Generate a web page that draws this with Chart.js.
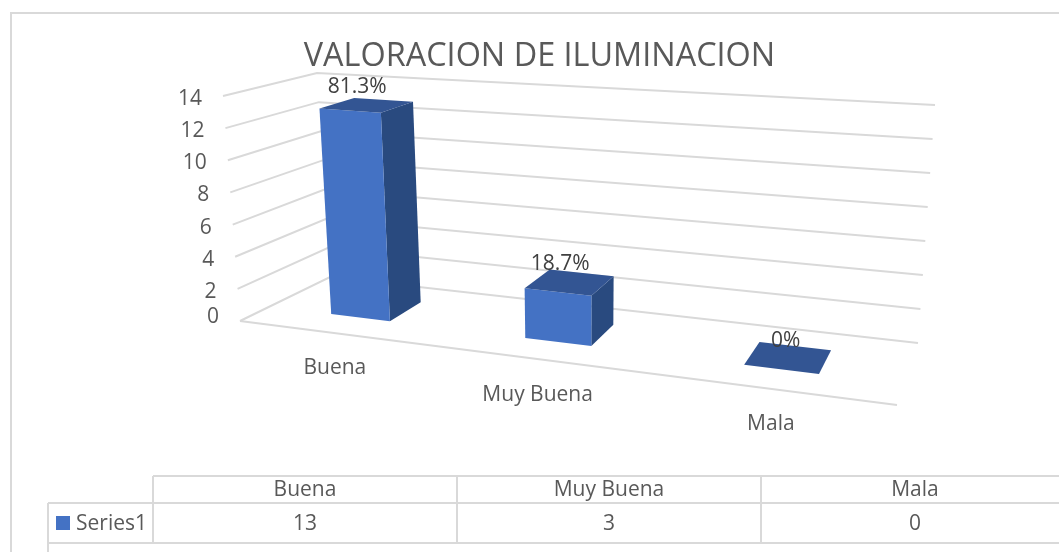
<!DOCTYPE html>
<html><head><meta charset="utf-8">
<script src="https://cdn.jsdelivr.net/npm/chart.js@4"></script>
<style>html,body{margin:0;padding:0;background:#fff;overflow:hidden}#w{width:1059px;height:552px;position:relative}</style>
</head><body><div id="w"><canvas id="c" width="1059" height="552"></canvas></div>
<script>
const titleText = 'VALORACION DE ILUMINACION';
const categories = ['Buena', 'Muy Buena', 'Mala'];
const seriesName = 'Series1';
const seriesValues = [13, 3, 0];
const percentLabels = ['81.3%', '18.7%', '0%'];

const FONT = '"Open Sans", sans-serif';
const GRID = '#d9d9d9', TXT = '#595959', LBL = '#404040';
const FRONT = '#4472c4', TOP = '#335593', SIDE = '#294a7f';
// projected corners of the 3D box (floor point, top point)
const box = {
  FL: [[240, 321], [223, 96]], FR: [[897, 405], [912, 146]],
  BL: [[330, 277], [317, 73]], BR: [[918, 343], [935, 105]]
};
const persp = 1.2, zFront = 0.33, zBack = 0.73;
const catLabelShift = [1, -1, 1];
const lerp = (a, b, k) => [a[0] + (b[0] - a[0]) * k, a[1] + (b[1] - a[1]) * k];
function project(t, v, w) {
  const u = t / (t + persp * (1 - t));
  const c = n => lerp(box[n][0], box[n][1], v);
  return lerp(lerp(c('FL'), c('FR'), u), lerp(c('BL'), c('BR'), u), w);
}
function poly(ctx, pts, fill) {
  ctx.beginPath();
  pts.forEach((p, i) => i ? ctx.lineTo(p[0], p[1]) : ctx.moveTo(p[0], p[1]));
  ctx.closePath();
  ctx.fillStyle = fill; ctx.fill();
}
function seg(ctx, pts) {
  ctx.beginPath();
  pts.forEach((p, i) => i ? ctx.lineTo(p[0], p[1]) : ctx.moveTo(p[0], p[1]));
  ctx.stroke();
}
function text(ctx, s, x, y, font, color, align) {
  ctx.font = font; ctx.fillStyle = color; ctx.textAlign = align || 'center'; ctx.textBaseline = 'middle';
  ctx.fillText(s, x, y + 1.5);
}
const scene3d = {
  id: 'scene3d',
  beforeDraw(chart) {
    const ctx = chart.ctx;
    ctx.save();
    ctx.fillStyle = '#fff'; ctx.fillRect(0, 0, chart.width, chart.height);
    ctx.strokeStyle = GRID; ctx.lineWidth = 2;
    seg(ctx, [[11, 552], [11, 13], [1059, 13]]);
    // data table
    const colX = [153, 457, 761, 1069];
    seg(ctx, [[153, 476], [1059, 476]]);
    seg(ctx, [[48, 503], [1059, 503]]);
    seg(ctx, [[48, 543], [1059, 543]]);
    seg(ctx, [[48, 503], [48, 552]]);
    colX.slice(0, 3).forEach(x => seg(ctx, [[x, 476], [x, 543]]));
    const f = '21px ' + FONT;
    categories.forEach((n, i) => {
      const cx = (colX[i] + colX[i + 1]) / 2;
      text(ctx, n, cx, 489, f, TXT);
      text(ctx, String(seriesValues[i]), cx, 523, f, TXT);
    });
    ctx.fillStyle = FRONT; ctx.fillRect(56, 516, 14, 14);
    text(ctx, seriesName, 76, 523, f, TXT, 'left');
    ctx.restore();
  },
  beforeDatasetsDraw(chart) {
    const ctx = chart.ctx, y = chart.scales.y, x = chart.scales.x, a = chart.chartArea;
    const vOf = val => (y.bottom - y.getPixelForValue(val)) / (y.bottom - y.top);
    ctx.save();
    ctx.strokeStyle = GRID; ctx.lineWidth = 2;
    y.ticks.forEach(tk => {
      const v = vOf(tk.value);
      const p = project(0, v, 0);
      seg(ctx, [p, project(0, v, 1), project(1, v, 1)]);
      text(ctx, tk.label, p[0] - 21, p[1] + (tk.value === 0 ? -5 : 1.5), '21px ' + FONT, TXT, 'right');
    });
    seg(ctx, [project(0, 0, 0), project(1, 0, 0)]);
    categories.forEach((n, i) => {
      const p = project((x.getPixelForValue(i) - a.left) / a.width, 0, 0);
      text(ctx, n, p[0] + catLabelShift[i], p[1] + 34, '21px ' + FONT, TXT);
    });
    // 3D bars, taken from the library's bar elements
    chart.getDatasetMeta(0).data.forEach((el, i) => {
      const t0 = (el.x - el.width / 2 - a.left) / a.width, t1 = (el.x + el.width / 2 - a.left) / a.width;
      const v = vOf(seriesValues[i]);
      const A = project(t0, 0, zFront), B = project(t1, 0, zFront), C = project(t1, 0, zBack);
      const D = project(t0, v, zFront), E = project(t1, v, zFront), G = project(t1, v, zBack), H = project(t0, v, zBack);
      if (v > 0) {
        poly(ctx, [B, C, G, E], SIDE);
        poly(ctx, [A, B, E, D], FRONT);
      }
      poly(ctx, [D, E, G, H], TOP);
      const cx = (D[0] + G[0]) / 2, cy = (D[1] + G[1]) / 2;
      text(ctx, percentLabels[i], cx - (v > 0 ? 9 : 2), cy - (v > 0 ? 20 : 18.5), '21px ' + FONT, LBL);
    });
    ctx.restore();
    return false;
  }
};
new Chart(document.getElementById('c'), {
  type: 'bar',
  data: {
    labels: categories,
    datasets: [{ label: seriesName, data: seriesValues, backgroundColor: FRONT, barPercentage: 0.315, categoryPercentage: 1 }]
  },
  options: {
    responsive: false, animation: false,
    layout: { padding: { left: 20 } },
    plugins: {
      legend: { display: false }, tooltip: { enabled: false },
      title: { display: true, text: titleText, color: TXT, font: { family: FONT, size: 32.4, weight: 'normal' }, padding: { top: 37, bottom: 10 } }
    },
    scales: {
      x: { display: false },
      y: { display: false, min: 0, max: 14, ticks: { stepSize: 2 } }
    }
  },
  plugins: [scene3d]
});
</script></body></html>
